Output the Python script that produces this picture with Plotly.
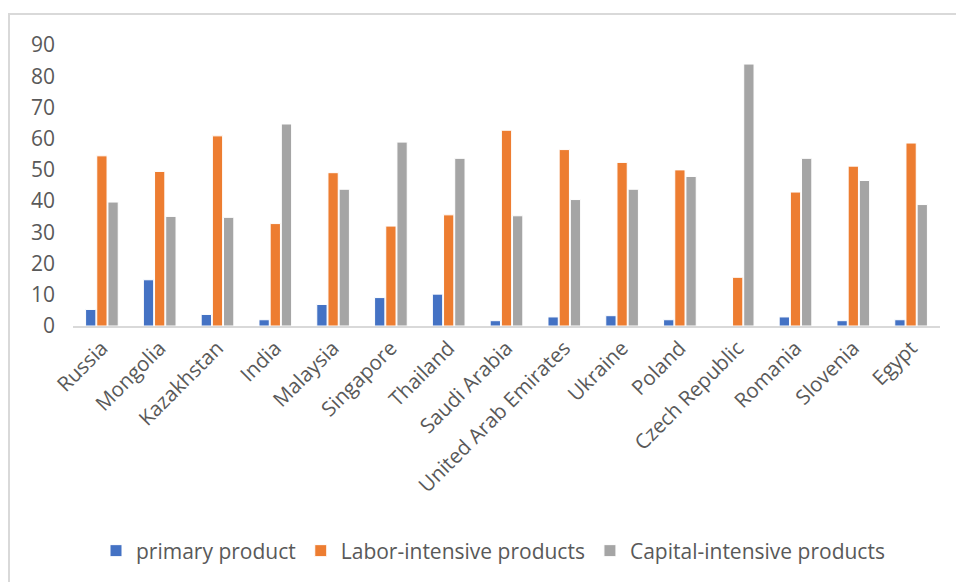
import plotly.graph_objects as go

countries = ["Russia", "Mongolia", "Kazakhstan", "India", "Malaysia", "Singapore", "Thailand",
             "Saudi Arabia", "United Arab Emirates", "Ukraine", "Poland", "Czech Republic",
             "Romania", "Slovenia", "Egypt"]
primary = [5.3, 14.8, 3.7, 2.0, 6.9, 9.1, 10.2, 1.7, 2.9, 3.3, 2.0, 0.0, 2.9, 1.7, 2.0]
labor = [54.5, 49.5, 60.9, 32.8, 49.1, 32.0, 35.6, 62.7, 56.5, 52.4, 50.0, 15.6, 42.9, 51.2, 58.6]
capital = [39.7, 35.1, 34.8, 64.7, 43.8, 58.9, 53.7, 35.3, 40.5, 43.8, 47.9, 83.9, 53.7, 46.6, 38.9]
series_names = ["primary product", "Labor-intensive products", "Capital-intensive products"]
colors = ["#4472C4", "#ED7D31", "#A5A5A5"]

W, H = 956, 582
L, R, T, B = 55, 16, 45, 255
pw, ph = W - L - R, H - T - B
x_start = (73 - L) / pw

fig = go.Figure()
for name, vals, c in zip(series_names, [primary, labor, capital], colors):
    fig.add_trace(go.Bar(x=countries, y=vals, name=name,
                         marker=dict(color=c, line=dict(color="white", width=1))))

font_family = "Open Sans, Noto Sans, sans-serif"
fig.update_layout(
    width=W, height=H,
    margin=dict(l=L, r=R, t=T, b=B),
    paper_bgcolor="white", plot_bgcolor="white",
    barmode="group", bargap=0.42, bargroupgap=0.08,
    font=dict(family=font_family, color="#595959", size=20),
    showlegend=True,
    legend=dict(orientation="h", x=(493 - L) / pw, xanchor="center",
                y=(T + ph - 551) / ph, yanchor="middle",
                font=dict(size=21, color="#595959"), itemwidth=30,
                traceorder="normal"),
    xaxis=dict(domain=[x_start, 1], tickangle=-45, showline=True, linecolor="#D9D9D9",
               linewidth=2, showgrid=False, ticks="",
               tickfont=dict(size=20.5, color="#595959")),
    yaxis=dict(range=[0, 90], dtick=10, showgrid=False, zeroline=False, showline=False,
               anchor="free", position=0, ticks="",
               tickfont=dict(size=21, color="#595959")),
    shapes=[dict(type="rect", xref="paper", yref="paper",
                 x0=(9 - L) / pw, x1=(970 - L) / pw,
                 y0=(T + ph - 600) / ph, y1=(T + ph - 14) / ph,
                 line=dict(color="#D9D9D9", width=2), fillcolor="rgba(0,0,0,0)",
                 layer="below")],
)

fig.write_html("out.html")
